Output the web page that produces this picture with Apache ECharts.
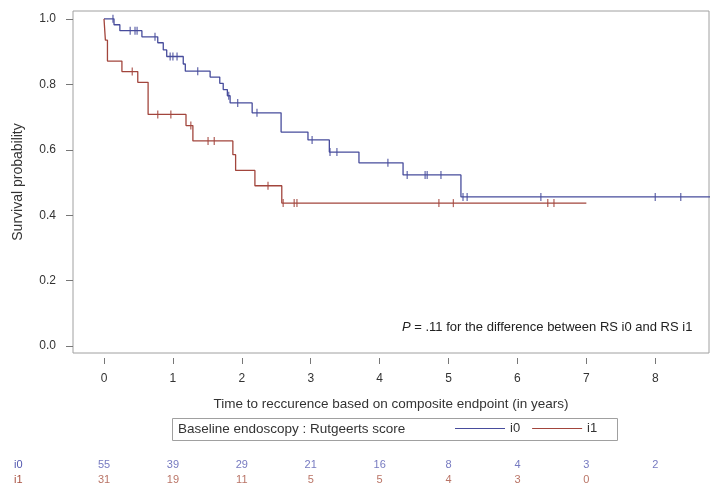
<!DOCTYPE html>
<html><head><meta charset="utf-8">
<script src="https://cdn.jsdelivr.net/npm/echarts@6/dist/echarts.min.js"></script>
<style>html,body{margin:0;padding:0;background:#fff}#c{width:710px;height:487px}</style>
</head><body><div id="c"></div>
<script>
// Kaplan-Meier step data (time in years, survival probability)
const i0Time = [0, 0.145, 0.23, 0.55, 0.78, 0.86, 0.91, 1.15, 1.18, 1.54, 1.68, 1.73, 1.79, 1.83, 2.15, 2.57, 2.96, 3.27, 3.70, 4.34, 5.18, 8.8];
const i0Surv = [1.0, 0.982, 0.964, 0.945, 0.927, 0.905, 0.885, 0.862, 0.840, 0.822, 0.803, 0.784, 0.765, 0.743, 0.713, 0.654, 0.630, 0.593, 0.560, 0.523, 0.456, 0.456];
const i0CensTime = [0.13, 0.38, 0.45, 0.48, 0.74, 0.96, 1.0, 1.06, 1.36, 1.81, 1.94, 2.22, 3.02, 3.28, 3.38, 4.12, 4.40, 4.66, 4.69, 4.89, 5.21, 5.27, 6.34, 8.0, 8.37];
const i0CensSurv = [1.0, 0.964, 0.964, 0.964, 0.945, 0.885, 0.885, 0.885, 0.840, 0.765, 0.743, 0.713, 0.630, 0.593, 0.593, 0.560, 0.523, 0.523, 0.523, 0.523, 0.456, 0.456, 0.456, 0.456, 0.456];

const i1Time = [0, 0.02, 0.05, 0.26, 0.49, 0.64, 1.19, 1.29, 1.87, 1.91, 2.19, 2.58, 7.0];
const i1Surv = [1.0, 0.935, 0.871, 0.839, 0.806, 0.708, 0.674, 0.627, 0.585, 0.537, 0.490, 0.437, 0.437];
const i1CensTime = [0.41, 0.78, 0.97, 1.26, 1.51, 1.60, 2.38, 2.60, 2.76, 2.80, 4.86, 5.07, 6.44, 6.53];
const i1CensSurv = [0.839, 0.708, 0.708, 0.674, 0.627, 0.627, 0.490, 0.437, 0.437, 0.437, 0.437, 0.437, 0.437, 0.437];

// Numbers at risk
const riskTimes = [0, 1, 2, 3, 4, 5, 6, 7, 8];
const riskI0 = [55, 39, 29, 21, 16, 8, 4, 3, 2];
const riskI1 = [31, 19, 11, 5, 5, 4, 3, 0];

const xTicks = [0, 1, 2, 3, 4, 5, 6, 7, 8];
const yTicks = [0, 0.2, 0.4, 0.6, 0.8, 1.0];

const blue = '#474c9c';
const red = '#a2453c';
const blueTxt = '#5257b0';
const redTxt = '#a8503f';
const FONT = '"Liberation Sans", Arial, sans-serif';

const zip = (a, b) => a.map((v, i) => [v, b[i]]);

const chart = echarts.init(document.getElementById('c'), null, {renderer: 'canvas'});
chart.setOption({
  backgroundColor: '#fff',
  animation: false,
  textStyle: {fontFamily: FONT},
  grid: [
    {left: 73, top: 11, right: 1, bottom: 134, show: true, borderColor: '#a0a0a0', borderWidth: 1, containLabel: false},
    {left: 73, top: 457, right: 1, height: 30, show: false, containLabel: false}
  ],
  xAxis: [
    {type: 'value', gridIndex: 0, min: -0.45, max: 8.78, offset: 5,
     axisLine: {show: false, onZero: false}, splitLine: {show: false},
     axisTick: {show: true, length: 6, customValues: xTicks, lineStyle: {color: '#777'}},
     axisLabel: {customValues: xTicks, margin: 15, fontSize: 12, color: '#333', fontFamily: FONT},
     name: 'Time to reccurence based on composite endpoint (in years)', nameLocation: 'middle', nameGap: 39,
     nameTextStyle: {fontSize: 13.5, color: '#333', fontFamily: FONT}},
    {type: 'value', gridIndex: 1, min: -0.45, max: 8.78, show: false}
  ],
  yAxis: [
    {type: 'value', gridIndex: 0, min: -0.021, max: 1.024,
     axisLine: {show: false, onZero: false}, splitLine: {show: false},
     axisTick: {show: true, length: 7, customValues: yTicks, lineStyle: {color: '#777'}},
     axisLabel: {customValues: yTicks, margin: 17, fontSize: 12, color: '#333', fontFamily: FONT,
                 formatter: v => v.toFixed(1)},
     name: 'Survival probability', nameLocation: 'middle', nameGap: 48,
     nameTextStyle: {fontSize: 14, color: '#333', fontFamily: FONT}},
    {type: 'category', gridIndex: 1, data: ['i1', 'i0'],
     axisLine: {show: false, onZero: false}, axisTick: {show: false}, splitLine: {show: false},
     axisLabel: {align: 'left', margin: 59, fontSize: 11, fontFamily: FONT,
       formatter: v => v === 'i0' ? '{b|i0}' : '{r|i1}',
       rich: {b: {color: blueTxt, fontSize: 11}, r: {color: redTxt, fontSize: 11}}}}
  ],
  legend: {
    data: ['i0', 'i1'], left: 455, top: 422, icon: 'rect', itemWidth: 50, itemHeight: 1,
    itemGap: 12, textStyle: {fontSize: 13, color: '#333', fontFamily: FONT}, padding: 0
  },
  graphic: [
    {type: 'rect', shape: {x: 172.5, y: 418.5, width: 445, height: 22},
     style: {fill: 'none', stroke: '#a0a0a0', lineWidth: 1}},
    {type: 'text', left: 178, top: 422,
     style: {text: 'Baseline endoscopy : Rutgeerts score', fontSize: 13.5, fill: '#333', fontFamily: FONT}},
    {type: 'text', left: 402, top: 321,
     style: {text: '{i|P} = .11 for the difference between RS i0 and RS i1', fontSize: 13, fill: '#222', fontFamily: FONT,
       rich: {i: {fontStyle: 'italic', fontSize: 13, fontFamily: FONT, fill: '#222'}}}}
  ],
  series: [
    {name: 'i0', type: 'line', step: 'end', xAxisIndex: 0, yAxisIndex: 0, data: zip(i0Time, i0Surv),
     symbol: 'none', lineStyle: {color: blue, width: 1.3}, itemStyle: {color: blue}, clip: true},
    {name: 'i1', type: 'line', step: 'end', xAxisIndex: 0, yAxisIndex: 0, data: zip(i1Time, i1Surv),
     symbol: 'none', lineStyle: {color: red, width: 1.3}, itemStyle: {color: red}, clip: true},
    {name: 'i0c', type: 'scatter', xAxisIndex: 0, yAxisIndex: 0, data: zip(i0CensTime, i0CensSurv),
     symbol: 'rect', symbolSize: [1.3, 8], itemStyle: {color: blue}},
    {name: 'i1c', type: 'scatter', xAxisIndex: 0, yAxisIndex: 0, data: zip(i1CensTime, i1CensSurv),
     symbol: 'rect', symbolSize: [1.3, 8], itemStyle: {color: red}},
    {name: 'riskI0', type: 'scatter', xAxisIndex: 1, yAxisIndex: 1,
     data: riskI0.map((v, i) => [riskTimes[i], 'i0', v]), symbolSize: 0,
     label: {show: true, position: 'inside', formatter: p => String(p.value[2]), color: blueTxt, fontSize: 11, fontFamily: FONT}},
    {name: 'riskI1', type: 'scatter', xAxisIndex: 1, yAxisIndex: 1,
     data: riskI1.map((v, i) => [riskTimes[i], 'i1', v]), symbolSize: 0,
     label: {show: true, position: 'inside', formatter: p => String(p.value[2]), color: redTxt, fontSize: 11, fontFamily: FONT}}
  ]
});
</script></body></html>
